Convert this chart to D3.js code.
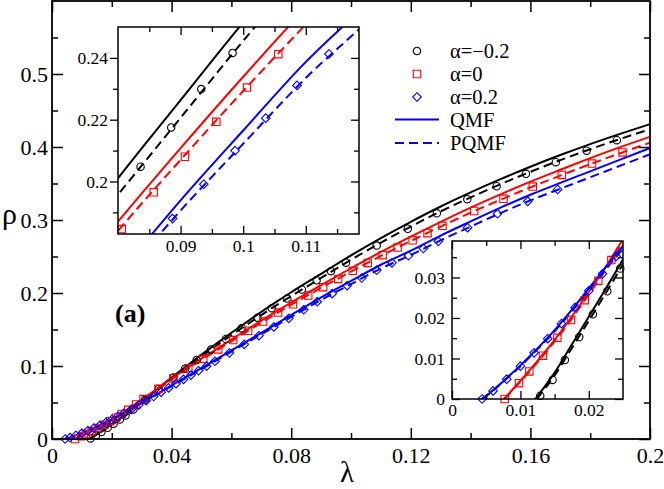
<!DOCTYPE html>
<html><head><meta charset="utf-8">
<script src="https://cdn.jsdelivr.net/npm/d3@7"></script>
<style>body{margin:0;background:#fff}svg{display:block}</style>
</head><body>
<svg id="chart" width="664" height="489"></svg>
<script>
// ---------------- DATA ----------------
// QMF (solid) and PQMF (dashed) curves: [lambda, rho]
const qmfM02 = [[0.0122,0],[0.015,0.0065],[0.0175,0.0134],[0.02,0.0203],[0.0225,0.0273],[0.025,0.0345],[0.03,0.0514],[0.035,0.0682],[0.04,0.0843],[0.045,0.1001],[0.05,0.1156],[0.055,0.1307],[0.06,0.1455],[0.065,0.1600],[0.07,0.1741],[0.075,0.1878],[0.08,0.2010],[0.09,0.2263],[0.1,0.2515],[0.11,0.2752],[0.12,0.2975],[0.13,0.3185],[0.14,0.3378],[0.15,0.3559],[0.16,0.3730],[0.17,0.3890],[0.18,0.4040],[0.19,0.4180],[0.2,0.4313]];
const pqmfM02 = [[0.0124,0],[0.015,0.0058],[0.0175,0.0125],[0.02,0.0193],[0.0225,0.0262],[0.025,0.0333],[0.03,0.0500],[0.035,0.0665],[0.04,0.0823],[0.045,0.0978],[0.05,0.1130],[0.055,0.1278],[0.06,0.1422],[0.065,0.1562],[0.07,0.1698],[0.075,0.1830],[0.08,0.1957],[0.09,0.2206],[0.1,0.2455],[0.11,0.2690],[0.12,0.2910],[0.13,0.3118],[0.14,0.3310],[0.15,0.3490],[0.16,0.3660],[0.17,0.3820],[0.18,0.3970],[0.19,0.4110],[0.2,0.4244]];
const qmf0 = [[0.0076,0],[0.01,0.0045],[0.0125,0.0094],[0.015,0.0146],[0.0175,0.0203],[0.02,0.0264],[0.0225,0.0327],[0.025,0.0395],[0.03,0.0540],[0.035,0.0685],[0.04,0.0827],[0.045,0.0966],[0.05,0.1101],[0.055,0.1232],[0.06,0.1363],[0.065,0.1493],[0.07,0.1622],[0.075,0.1747],[0.08,0.1870],[0.09,0.2108],[0.1,0.2339],[0.11,0.2562],[0.12,0.2772],[0.13,0.2975],[0.14,0.3170],[0.15,0.3352],[0.16,0.3525],[0.17,0.3688],[0.18,0.3847],[0.19,0.3998],[0.2,0.4140]];
const pqmf0 = [[0.0077,0],[0.01,0.0043],[0.0125,0.0091],[0.015,0.0142],[0.0175,0.0198],[0.02,0.0258],[0.0225,0.0320],[0.025,0.0387],[0.03,0.0530],[0.035,0.0673],[0.04,0.0813],[0.045,0.0950],[0.05,0.1083],[0.055,0.1212],[0.06,0.1340],[0.065,0.1468],[0.07,0.1594],[0.075,0.1718],[0.08,0.1840],[0.09,0.2070],[0.1,0.2293],[0.11,0.2508],[0.12,0.2712],[0.13,0.2910],[0.14,0.3100],[0.15,0.3278],[0.16,0.3447],[0.17,0.3608],[0.18,0.3765],[0.19,0.3915],[0.2,0.4058]];
const qmfP02 = [[0.0043,0],[0.005,0.0008],[0.0075,0.0044],[0.01,0.0083],[0.0125,0.0125],[0.015,0.0170],[0.0175,0.0220],[0.02,0.0273],[0.0225,0.0326],[0.025,0.0378],[0.03,0.0497],[0.035,0.0616],[0.04,0.0734],[0.045,0.0853],[0.05,0.0972],[0.055,0.1093],[0.06,0.1213],[0.065,0.1334],[0.07,0.1455],[0.075,0.1577],[0.08,0.1698],[0.09,0.1939],[0.1,0.2165],[0.11,0.2387],[0.12,0.2580],[0.13,0.2787],[0.14,0.2980],[0.15,0.3169],[0.16,0.3346],[0.17,0.3508],[0.18,0.3667],[0.19,0.3827],[0.2,0.3985]];
const pqmfP02 = [[0.0044,0],[0.005,0.0007],[0.0075,0.0043],[0.01,0.0081],[0.0125,0.0123],[0.015,0.0167],[0.0175,0.0216],[0.02,0.0268],[0.0225,0.0320],[0.025,0.0371],[0.03,0.0489],[0.035,0.0606],[0.04,0.0723],[0.045,0.0840],[0.05,0.0958],[0.055,0.1077],[0.06,0.1196],[0.065,0.1315],[0.07,0.1434],[0.075,0.1553],[0.08,0.1672],[0.09,0.1906],[0.1,0.2122],[0.11,0.2335],[0.12,0.2521],[0.13,0.2722],[0.14,0.2910],[0.15,0.3095],[0.16,0.3268],[0.17,0.3428],[0.18,0.3585],[0.19,0.3743],[0.2,0.3900]];

// simulation points (symbols): [lambda, rho]
const simM02 = [[0.0129,0.0008],[0.0147,0.0047],[0.0165,0.0096],[0.0186,0.0153],[0.0206,0.0209],[0.0227,0.0266],[0.0246,0.0322],[0.0272,0.0403],[0.0311,0.0537],[0.0356,0.0685],[0.0406,0.0842],[0.0445,0.0962],[0.0484,0.1082],[0.0532,0.1226],[0.0582,0.1370],[0.0634,0.1517],[0.0687,0.1662],[0.0735,0.1792],[0.0787,0.1924],[0.0836,0.2048],[0.0885,0.2175],[0.0933,0.2299],[0.0983,0.2416],[0.1086,0.2650],[0.1190,0.2880],[0.1287,0.3092],[0.1389,0.3285],[0.1487,0.3462],[0.1585,0.3633],[0.1685,0.3792],[0.1788,0.3950],[0.1889,0.4094]];
const sim0 = [[0.0077,0],[0.0098,0.0039],[0.0113,0.0068],[0.0133,0.0107],[0.0154,0.0151],[0.0174,0.0195],[0.0194,0.0244],[0.0214,0.0292],[0.0233,0.0343],[0.0255,0.0400],[0.0281,0.0474],[0.0306,0.0547],[0.0356,0.0690],[0.0406,0.0830],[0.0456,0.0968],[0.0506,0.1099],[0.0556,0.1227],[0.0606,0.1355],[0.0656,0.1483],[0.0706,0.1609],[0.0756,0.1733],[0.0806,0.1846],[0.0857,0.1965],[0.0907,0.2080],[0.0957,0.2193],[0.1006,0.2304],[0.1056,0.2412],[0.1106,0.2518],[0.1156,0.2622],[0.1206,0.2722],[0.1256,0.2820],[0.1306,0.2920],[0.1412,0.3123],[0.1510,0.3290],[0.1608,0.3458],[0.1705,0.3617],[0.1806,0.3773],[0.1908,0.3925]];
const simP02 = [[0.0044,0],[0.006,0.0020],[0.008,0.0049],[0.010,0.0081],[0.012,0.0114],[0.014,0.0149],[0.016,0.0186],[0.018,0.0226],[0.020,0.0267],[0.022,0.0309],[0.024,0.0352],[0.0265,0.0405],[0.029,0.0465],[0.0315,0.0524],[0.034,0.0582],[0.0365,0.0641],[0.039,0.0700],[0.0415,0.0758],[0.044,0.0817],[0.0465,0.0876],[0.049,0.0935],[0.0517,0.0998],[0.0545,0.1065],[0.0593,0.1178],[0.0643,0.1297],[0.0692,0.1415],[0.0742,0.1535],[0.0792,0.1653],[0.0842,0.1770],[0.0887,0.1880],[0.0937,0.1991],[0.0987,0.2100],[0.1036,0.2205],[0.1086,0.2311],[0.1137,0.2413],[0.1192,0.2510],[0.1242,0.2610],[0.1292,0.2708],[0.1390,0.2895],[0.1490,0.3085],[0.1591,0.3256],[0.1691,0.3418]];

// tick labels
const mainXTicks = [0,0.04,0.08,0.12,0.16,0.2];
const mainXMinor = [0.02,0.06,0.1,0.14,0.18];
const mainYTicks = [0,0.1,0.2,0.3,0.4,0.5];
const mainYMinor = [0.05,0.15,0.25,0.35,0.45,0.55];
const in1XTicks = [0.09,0.1,0.11];
const in1XMinor = [0.085,0.095,0.105,0.115];
const in1YTicks = [0.2,0.22,0.24];
const in1YMinor = [0.19,0.21,0.23];
const in2XTicks = [0,0.01,0.02];
const in2XMinor = [0.005,0.015];
const in2YTicks = [0,0.01,0.02,0.03];
const in2YMinor = [0.005,0.015,0.025,0.035];

const legendLabels = ["α=−0.2","α=0","α=0.2","QMF","PQMF"];

// ---------------- DRAWING ----------------
const FONT = "'Liberation Serif','Times New Roman',Times,serif";
const BLACK="#000000", RED="#ff0000", BLUE="#0000ff";
const DASH = "9,5";
const svg = d3.select("#chart");

const lineSets = [
  {d:qmfM02,c:BLACK,dash:null},{d:pqmfM02,c:BLACK,dash:DASH},
  {d:qmf0,c:RED,dash:null},{d:pqmf0,c:RED,dash:DASH},
  {d:qmfP02,c:BLUE,dash:null},{d:pqmfP02,c:BLUE,dash:DASH}
];
const symSets = [
  {d:simM02,c:BLACK,t:"circle"},
  {d:sim0,c:RED,t:"square"},
  {d:simP02,c:BLUE,t:"diamond"}
];

function symPath(t, x, y){
  if(t==="circle"){const r=3.7;return `M${x-r},${y}a${r},${r} 0 1,0 ${2*r},0a${r},${r} 0 1,0 ${-2*r},0Z`;}
  if(t==="square"){const h=3.7;return `M${x-h},${y-h}h${2*h}v${2*h}h${-2*h}Z`;}
  const r=4.3;return `M${x},${y-r}L${x+r},${y}L${x},${y+r}L${x-r},${y}Z`;
}

let clipId=0;
function panel(o){
  const g = svg.append("g");
  const x = d3.scaleLinear().domain(o.xd).range([o.x0,o.x1]);
  const y = d3.scaleLinear().domain(o.yd).range([o.y1,o.y0]);
  if(o.bg) g.append("rect").attr("x",o.x0).attr("y",o.y0).attr("width",o.x1-o.x0).attr("height",o.y1-o.y0).attr("fill","#fff");
  const id="clip"+(clipId++);
  svg.append("clipPath").attr("id",id).append("rect").attr("x",o.x0).attr("y",o.y0).attr("width",o.x1-o.x0).attr("height",o.y1-o.y0);
  const line = d3.line().x(d=>x(d[0])).y(d=>y(d[1])).curve(d3.curveMonotoneX);
  const lg = g.append("g").attr("clip-path",`url(#${id})`);
  lineSets.forEach(s=>{
    lg.append("path").attr("d",line(s.d)).attr("fill","none").attr("stroke",s.c)
      .attr("stroke-width",o.lw).attr("stroke-dasharray",s.dash);
  });
  const sg = g.append("g");
  symSets.forEach(s=>{
    s.d.filter(p=>p[0]>=o.xd[0]-1e-9&&p[0]<=o.xd[1]&&p[1]>=o.yd[0]-1e-9&&p[1]<=o.yd[1])
     .forEach(p=>{
       sg.append("path").attr("d",symPath(s.t,x(p[0]),y(p[1]))).attr("fill","none")
         .attr("stroke",s.c).attr("stroke-width",1.1);
     });
  });
  // axes
  const fmt = d=>String(d);
  function ax(gen, vals, len, labels, pad, tx){
    const a = gen.tickValues(vals).tickSize(len).tickPadding(pad).tickFormat(labels?fmt:"");
    const ag = g.append("g").attr("transform",tx).call(a);
    ag.select(".domain").remove();
    ag.attr("font-family",FONT);
    ag.selectAll("line").attr("stroke","#000").attr("stroke-width",o.tw);
    ag.selectAll("text").attr("font-family",FONT).attr("font-size",o.fs).attr("fill","#000");
    return ag;
  }
  const b=`translate(0,${o.y1})`, t=`translate(0,${o.y0})`, l=`translate(${o.x0},0)`, r=`translate(${o.x1},0)`;
  ax(d3.axisBottom(x), o.xt, -o.maj, true, o.xpad, b);
  ax(d3.axisBottom(x), o.xm, -o.min, false, 0, b);
  ax(d3.axisTop(x), o.xt, -o.maj, false, 0, t);
  ax(d3.axisTop(x), o.xm, -o.min, false, 0, t);
  const ls = o.leftOut ? 1 : -1;
  ax(d3.axisLeft(y), o.yt, ls*o.maj, true, o.ypad, l);
  ax(d3.axisLeft(y), o.ym, ls*o.min, false, 0, l);
  ax(d3.axisRight(y), o.yt, -o.maj, false, 0, r);
  ax(d3.axisRight(y), o.ym, -o.min, false, 0, r);
  g.append("rect").attr("x",o.x0).attr("y",o.y0).attr("width",o.x1-o.x0).attr("height",o.y1-o.y0)
    .attr("fill","none").attr("stroke","#000").attr("stroke-width",o.fw);
  return {g,x,y};
}

// main panel
panel({x0:52,x1:650,y0:1,y1:439,xd:[0,0.2],yd:[0,0.6],
  xt:mainXTicks,xm:mainXMinor,yt:mainYTicks,ym:mainYMinor,
  maj:11,min:6,fs:22,xpad:8,ypad:4,lw:2,tw:1.5,fw:1.8,bg:false});

// axis titles
svg.append("text").attr("x",2).attr("y",224).attr("font-family",FONT).attr("font-size",30).text("ρ");
svg.append("text").attr("x",340).attr("y",482).attr("font-family",FONT).attr("font-size",29).text("λ");
svg.append("text").attr("x",115).attr("y",322).attr("font-family",FONT).attr("font-size",26)
  .attr("font-weight","bold").text("(a)");

// legend
const lgX=417, lgTx=450, lgRows=[51,74,97,119.5,143];
const lgSyms=["circle","square","diamond"], lgCols=[BLACK,RED,BLUE];
lgSyms.forEach((s,i)=>{
  svg.append("path").attr("d",symPath(s,lgX,lgRows[i])).attr("fill","none").attr("stroke",lgCols[i]).attr("stroke-width",1.1);
});
[null,DASH].forEach((d,i)=>{
  svg.append("line").attr("x1",395).attr("x2",439).attr("y1",lgRows[3+i]).attr("y2",lgRows[3+i])
    .attr("stroke",BLUE).attr("stroke-width",2).attr("stroke-dasharray",d);
});
legendLabels.forEach((t,i)=>{
  svg.append("text").attr("x",lgTx).attr("y",lgRows[i]).attr("dy","0.35em")
    .attr("font-family",FONT).attr("font-size",20.5).text(t);
});

// inset 1 (upper left)
panel({x0:118,x1:359,y0:27,y1:234,xd:[0.08,0.1185],yd:[0.183,0.25],
  xt:in1XTicks,xm:in1XMinor,yt:in1YTicks,ym:in1YMinor,leftOut:true,
  maj:8,min:5,fs:17.5,xpad:6,ypad:2,lw:2,tw:1.3,fw:1.5,bg:true});

// inset 2 (lower right)
panel({x0:452,x1:623,y0:241,y1:399,xd:[0,0.025],yd:[0,0.039],
  xt:in2XTicks,xm:in2XMinor,yt:in2YTicks,ym:in2YMinor,
  maj:8,min:5,fs:17.5,xpad:5,ypad:7,lw:2,tw:1.3,fw:1.5,bg:true});
</script>
</body></html>
